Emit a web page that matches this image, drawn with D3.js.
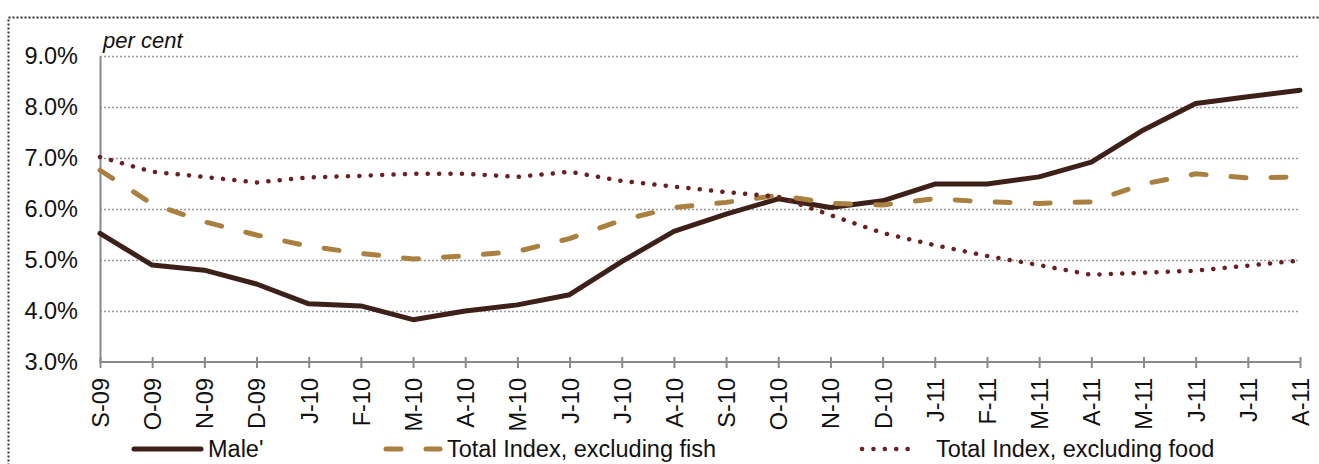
<!DOCTYPE html>
<html>
<head>
<meta charset="utf-8">
<script src="https://cdn.jsdelivr.net/npm/d3@7"></script>
<style>
  html, body { margin: 0; padding: 0; background: #fff; overflow: hidden; }
  svg { display: block; }
  text { font-family: "Liberation Sans", Arial, sans-serif; fill: #111; }
</style>
</head>
<body>
<svg id="chart" width="1319" height="464"></svg>
<script>
// Monthly labels, Sep 2009 to Aug 2011
const months = ["S-09","O-09","N-09","D-09","J-10","F-10","M-10","A-10","M-10","J-10","J-10","A-10",
                "S-10","O-10","N-10","D-10","J-11","F-11","M-11","A-11","M-11","J-11","J-11","A-11"];

// Annual inflation, per cent
const male   = [5.52,4.90,4.80,4.53,4.14,4.10,3.83,4.00,4.12,4.32,4.97,5.56,
                5.90,6.20,6.03,6.16,6.49,6.49,6.63,6.92,7.55,8.07,8.20,8.33];
const exFish = [6.76,6.10,5.75,5.49,5.27,5.13,5.02,5.08,5.17,5.42,5.78,6.03,
                6.13,6.27,6.11,6.08,6.20,6.14,6.11,6.14,6.49,6.69,6.61,6.63];
const exFood = [7.02,6.73,6.63,6.52,6.62,6.65,6.69,6.69,6.63,6.73,6.55,6.44,
                6.33,6.24,5.88,5.53,5.29,5.08,4.90,4.71,4.75,4.79,4.89,4.99];

const seriesNames = ["Male'", "Total Index, excluding fish", "Total Index, excluding food"];
const yTicks = [3, 4, 5, 6, 7, 8, 9];

const FONT = 23.5;
const svg = d3.select("#chart");

const plot = { left: 100, right: 1300, top: 56, bottom: 362 };

const x = d3.scalePoint()
  .domain(d3.range(months.length))
  .range([plot.left, plot.right]);

const y = d3.scaleLinear()
  .domain([3, 9])
  .range([plot.bottom, plot.top]);

// outer dotted frame
svg.append("rect")
  .attr("x", 8.5).attr("y", 17.5)
  .attr("width", 1400).attr("height", 480)
  .attr("fill", "none")
  .attr("stroke", "#333")
  .attr("stroke-width", 2)
  .attr("stroke-dasharray", "2,2");

// horizontal gridlines
svg.append("g")
  .selectAll("line")
  .data(yTicks.filter(d => d > 3))
  .join("line")
  .attr("x1", plot.left).attr("x2", plot.right)
  .attr("y1", d => Math.round(y(d)) + 0.5).attr("y2", d => Math.round(y(d)) + 0.5)
  .attr("stroke", "#9a9a9a")
  .attr("stroke-width", 1.5)
  .attr("stroke-dasharray", "2,2");

// y axis
const yAxis = svg.append("g")
  .attr("transform", `translate(${plot.left},0)`)
  .call(d3.axisLeft(y).tickValues(yTicks).tickSize(0).tickPadding(22)
        .tickFormat(d => d3.format(".1f")(d) + "%"));
yAxis.select(".domain").attr("stroke", "#8a8a8a").attr("stroke-width", 2);
yAxis.selectAll("text").attr("font-size", FONT).attr("fill", "#111")
  .attr("font-family", "'Liberation Sans', Arial, sans-serif");

// x axis
const xAxis = svg.append("g")
  .attr("transform", `translate(0,${plot.bottom})`)
  .call(d3.axisBottom(x).tickSize(6).tickFormat(i => months[i]));
xAxis.select(".domain").attr("stroke", "#8a8a8a").attr("stroke-width", 2)
  .attr("d", `M${plot.left},0H${plot.right}`);
xAxis.selectAll(".tick line").attr("stroke", "#8a8a8a").attr("stroke-width", 2)
  .attr("y1", -5).attr("y2", 6);
xAxis.selectAll(".tick text")
  .attr("font-size", FONT).attr("fill", "#111")
  .attr("font-family", "'Liberation Sans', Arial, sans-serif")
  .attr("text-anchor", "end")
  .attr("transform", "rotate(-90)")
  .attr("x", -16).attr("y", 0).attr("dy", "0.36em");

// unit label
svg.append("text")
  .attr("x", 103).attr("y", 48)
  .attr("font-size", 22)
  .attr("font-style", "italic")
  .text("per cent");

// series lines
const line = d3.line()
  .x((d, i) => x(i))
  .y(d => y(d));

const styles = [
  { data: male,   color: "#3d2019", width: 5, dash: null },
  { data: exFish, color: "#a98040", width: 5, dash: "15,25" },
  { data: exFood, color: "#6a2020", width: 4.5, dash: "0.1,11.3" }
];

const lines = svg.append("g");
styles.forEach(s => {
  lines.append("path")
    .datum(s.data)
    .attr("d", line)
    .attr("fill", "none")
    .attr("stroke", s.color)
    .attr("stroke-width", s.width)
    .attr("stroke-linecap", "round")
    .attr("stroke-linejoin", "round")
    .attr("stroke-dasharray", s.dash);
});

// legend
const legendItems = [
  { sx1: 134, sx2: 201, tx: 208 },
  { sx1: 386, sx2: 440, tx: 447 },
  { sx1: 862, sx2: 918, tx: 936 }
];
const legendY = 449;
const legend = svg.append("g");
legendItems.forEach((it, k) => {
  const s = styles[k];
  legend.append("line")
    .attr("x1", it.sx1).attr("x2", it.sx2)
    .attr("y1", legendY).attr("y2", legendY)
    .attr("stroke", s.color)
    .attr("stroke-width", s.width)
    .attr("stroke-linecap", "round")
    .attr("stroke-dasharray", s.dash);
  legend.append("text")
    .attr("x", it.tx).attr("y", legendY)
    .attr("dy", "0.36em")
    .attr("font-size", FONT)
    .text(seriesNames[k]);
});
</script>
</body>
</html>
